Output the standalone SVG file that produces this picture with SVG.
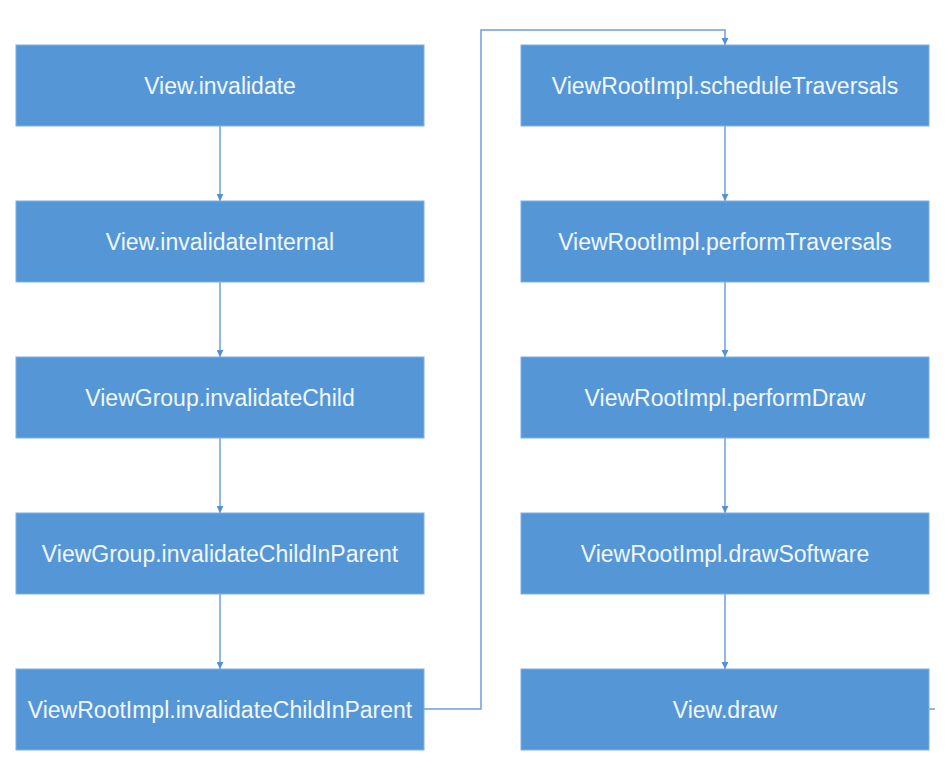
<svg xmlns="http://www.w3.org/2000/svg" width="945" height="779" viewBox="0 0 945 779">
<style>
.box{fill:#5597D6;stroke:#7FB0E3;stroke-width:1}
.lbl{font-family:"Liberation Sans",Arial,sans-serif;font-size:23px;fill:#F2F7FD;text-anchor:middle}
.conn{fill:none;stroke:#6E9FD8;stroke-width:1.5}
</style>
<defs>
<marker id="arr" viewBox="0 0 10 10" refX="10" refY="5" markerWidth="7" markerHeight="7" markerUnits="userSpaceOnUse" orient="auto">
<path d="M0,0 L10,5 L0,10 z" fill="#5A8FD0"/>
</marker>
</defs>
<rect width="945" height="779" fill="#FFFFFF"/>
<g id="connectors">
<line class="conn" x1="220" y1="126" x2="220" y2="201" marker-end="url(#arr)"/>
<line class="conn" x1="220" y1="282" x2="220" y2="357" marker-end="url(#arr)"/>
<line class="conn" x1="220" y1="438" x2="220" y2="513" marker-end="url(#arr)"/>
<line class="conn" x1="220" y1="594" x2="220" y2="669" marker-end="url(#arr)"/>
<path class="conn" d="M424,709 H481 V30 H725 V45" marker-end="url(#arr)"/>
<line class="conn" x1="725" y1="126" x2="725" y2="201" marker-end="url(#arr)"/>
<line class="conn" x1="725" y1="282" x2="725" y2="357" marker-end="url(#arr)"/>
<line class="conn" x1="725" y1="438" x2="725" y2="513" marker-end="url(#arr)"/>
<line class="conn" x1="725" y1="594" x2="725" y2="669" marker-end="url(#arr)"/>
<line class="conn" x1="929" y1="709" x2="935" y2="709"/>
</g>
<g id="n1"><rect class="box" x="16" y="45" width="408" height="81"/><text class="lbl" x="220" y="94">View.invalidate</text></g>
<g id="n2"><rect class="box" x="16" y="201" width="408" height="81"/><text class="lbl" x="220" y="250">View.invalidateInternal</text></g>
<g id="n3"><rect class="box" x="16" y="357" width="408" height="81"/><text class="lbl" x="220" y="406">ViewGroup.invalidateChild</text></g>
<g id="n4"><rect class="box" x="16" y="513" width="408" height="81"/><text class="lbl" x="220" y="562">ViewGroup.invalidateChildInParent</text></g>
<g id="n5"><rect class="box" x="16" y="669" width="408" height="81"/><text class="lbl" x="220" y="718">ViewRootImpl.invalidateChildInParent</text></g>
<g id="n6"><rect class="box" x="521" y="45" width="408" height="81"/><text class="lbl" x="725" y="94">ViewRootImpl.scheduleTraversals</text></g>
<g id="n7"><rect class="box" x="521" y="201" width="408" height="81"/><text class="lbl" x="725" y="250">ViewRootImpl.performTraversals</text></g>
<g id="n8"><rect class="box" x="521" y="357" width="408" height="81"/><text class="lbl" x="725" y="406">ViewRootImpl.performDraw</text></g>
<g id="n9"><rect class="box" x="521" y="513" width="408" height="81"/><text class="lbl" x="725" y="562">ViewRootImpl.drawSoftware</text></g>
<g id="n10"><rect class="box" x="521" y="669" width="408" height="81"/><text class="lbl" x="725" y="718">View.draw</text></g>
</svg>
